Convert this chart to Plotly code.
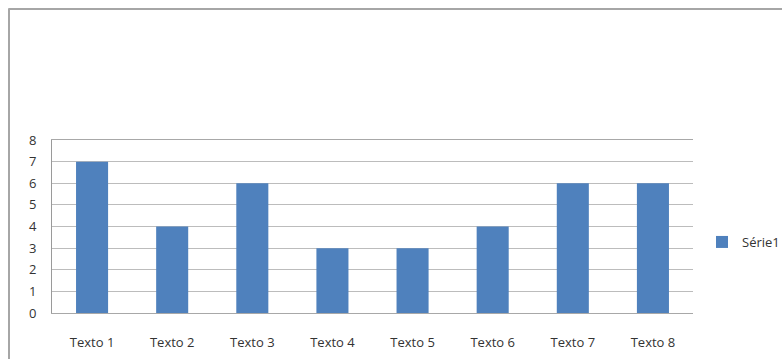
import plotly.graph_objects as go

categories = ["Texto 1", "Texto 2", "Texto 3", "Texto 4", "Texto 5", "Texto 6", "Texto 7", "Texto 8"]
serie1 = [7, 4, 6, 3, 3, 4, 6, 6]
series_name = "Série1"
y_ticks = [0, 1, 2, 3, 4, 5, 6, 7, 8]

W, H = 782, 359
ML, MR, MT, MB = 52, 89, 140, 46
pw = W - ML - MR
ph = H - MT - MB

def px_x(p):
    return (p - ML) / pw

def px_y(p):
    return (H - MB - p) / ph

fig = go.Figure()
fig.add_trace(go.Bar(
    x=categories, y=serie1, name=series_name,
    marker=dict(color="#4f81bd", line=dict(width=0)),
    width=0.4, showlegend=True,
))

font = dict(family="Open Sans, Noto Sans, sans-serif", size=13, color="#333333")

fig.update_layout(
    width=W, height=H,
    margin=dict(l=ML, r=MR, t=MT, b=MB, pad=0, autoexpand=False),
    paper_bgcolor="white", plot_bgcolor="white",
    font=font,
    showlegend=True,
    legend=dict(x=px_x(702), xanchor="left", y=px_y(242), yanchor="middle",
                font=font, bgcolor="rgba(0,0,0,0)", itemwidth=30,
                tracegroupgap=0),
    bargap=0.6,
    xaxis=dict(showgrid=False, showline=True, mirror=True, linecolor="#a8a8a8", linewidth=1,
               ticks="", tickfont=font, ticklabelstandoff=17, fixedrange=True),
    yaxis=dict(range=[0, 8], tickvals=y_ticks, showgrid=True, gridcolor="#bcbcbc",
               gridwidth=1, showline=True, linecolor="#9a9a9a", linewidth=1,
               zeroline=False, ticks="", tickfont=font, ticklabelstandoff=12,
               fixedrange=True),
    shapes=[
        dict(type="line", xref="paper", yref="paper",
             x0=px_x(8.5), x1=px_x(782), y0=px_y(9), y1=px_y(9),
             line=dict(color="#a6a6a6", width=2)),
        dict(type="line", xref="paper", yref="paper",
             x0=px_x(9), x1=px_x(9), y0=px_y(8.5), y1=px_y(359),
             line=dict(color="#a6a6a6", width=2)),
    ],
)

fig.write_html("out.html")
